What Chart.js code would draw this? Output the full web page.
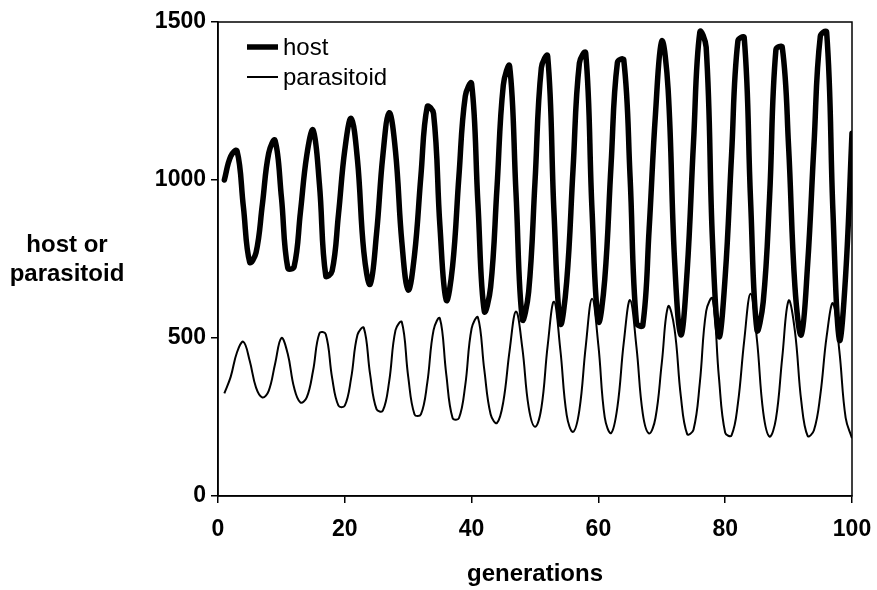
<!DOCTYPE html>
<html><head><meta charset="utf-8">
<script src="https://cdn.jsdelivr.net/npm/chart.js@4/dist/chart.umd.min.js"></script>
<style>html,body{margin:0;padding:0;background:#fff}#wrap{width:877px;height:590px;position:relative}</style>
</head><body><div id="wrap"><canvas id="c" width="877" height="590"></canvas></div>
<script>
const generations = [1,2,3,4,5,6,7,8,9,10,11,12,13,14,15,16,17,18,19,20,21,22,23,24,25,26,27,28,29,30,31,32,33,34,35,36,37,38,39,40,41,42,43,44,45,46,47,48,49,50,51,52,53,54,55,56,57,58,59,60,61,62,63,64,65,66,67,68,69,70,71,72,73,74,75,76,77,78,79,80,81,82,83,84,85,86,87,88,89,90,91,92,93,94,95,96,97,98,99,100];
const hostValues = [1000,1075,1092,916,740,770,923,1085,1125,946,
  722,725,898,1078,1158,986,697,712,891,1095,
  1195,1063,773,670,829,1077,1213,1090,803,652,
  764,1012,1232,1210,856,620,727,1012,1265,1305,
  925,585,661,974,1300,1360,960,560,646,994,
  1355,1392,895,546,679,1034,1370,1402,902,553,
  685,1049,1372,1380,1008,548,540,844,1208,1440,
  1286,752,510,712,1118,1468,1420,805,505,695,
  1078,1440,1450,937,526,615,946,1412,1420,1105,
  662,510,732,1110,1455,1468,897,495,700,1148];
const parasitoidValues = [325,377,455,488,428,343,312,333,418,500,
  450,343,296,312,397,515,512,374,286,286,
  373,510,532,384,275,270,363,525,550,378,
  258,258,357,525,562,386,247,246,351,530,
  565,400,259,231,298,461,584,469,281,219,
  278,476,615,462,256,203,272,473,624,476,
  249,199,282,485,620,472,261,198,247,421,
  600,530,316,196,210,359,585,625,378,200,
  192,292,492,640,496,265,188,244,439,618,
  521,300,190,208,319,505,610,460,247,183];
const seriesNames = ['host', 'parasitoid'];
const xTickValues = [0, 20, 40, 60, 80, 100];
const yTickValues = [0, 500, 1000, 1500];
const xTitle = 'generations';
const yTitleLines = ['host or', 'parasitoid'];

const FONT = '"Liberation Sans", Arial, Helvetica, sans-serif';
Chart.defaults.font.family = FONT;
Chart.defaults.color = '#000';

const extras = {
  id: 'extras',
  afterDraw(chart) {
    const ctx = chart.ctx, a = chart.chartArea;
    ctx.save();
    ctx.strokeStyle = '#000';
    ctx.lineWidth = 1.5;
    ctx.strokeRect(a.left, a.top, a.right - a.left, a.bottom - a.top);
    ctx.fillStyle = '#000';
    ctx.font = 'bold 24px ' + FONT;
    ctx.textAlign = 'center';
    ctx.textBaseline = 'middle';
    yTitleLines.forEach((t, i) => ctx.fillText(t, 67, 245 + i * 29));
    ctx.fillText(xTitle, (a.left + a.right) / 2, 574);
    // legend
    ctx.textAlign = 'left';
    ctx.font = '24px ' + FONT;
    chart.data.datasets.forEach((ds, i) => {
      const y = a.top + 25 + i * 30;
      ctx.beginPath();
      ctx.lineWidth = ds.borderWidth;
      ctx.strokeStyle = ds.borderColor;
      ctx.moveTo(a.left + 29, y);
      ctx.lineTo(a.left + 60, y);
      ctx.stroke();
      ctx.fillText(ds.label, a.left + 65, y + 1);
    });
    ctx.restore();
  }
};

const mk = (vals) => generations.map((g, i) => ({ x: g, y: vals[i] }));

new Chart(document.getElementById('c'), {
  type: 'line',
  data: {
    datasets: [
      { label: seriesNames[0], data: mk(hostValues), borderColor: '#000', borderWidth: 5.5, pointRadius: 0, tension: 0.4, fill: false, borderCapStyle: 'round', borderJoinStyle: 'round' },
      { label: seriesNames[1], data: mk(parasitoidValues), borderColor: '#000', borderWidth: 2, pointRadius: 0, tension: 0.4, fill: false }
    ]
  },
  options: {
    responsive: false,
    animation: false,
    devicePixelRatio: 1,
    layout: { padding: { left: 0, right: 25, top: 22, bottom: 0 } },
    plugins: { legend: { display: false }, tooltip: { enabled: false } },
    scales: {
      x: {
        type: 'linear', min: 0, max: 100,
        afterBuildTicks: (s) => { s.ticks = xTickValues.map(v => ({ value: v })); },
        afterFit: (s) => { s.height = 94; s.paddingLeft = 0; s.paddingRight = 0; },
        grid: { drawOnChartArea: false, drawTicks: true, tickLength: 7, color: '#000', lineWidth: 1.5 },
        border: { display: true, color: '#000', width: 1.5 },
        ticks: { font: { size: 23, weight: 'bold' }, color: '#000', padding: 13, maxRotation: 0, callback: (v) => String(v) }
      },
      y: {
        type: 'linear', min: 0, max: 1500,
        afterBuildTicks: (s) => { s.ticks = yTickValues.map(v => ({ value: v })); },
        afterFit: (s) => { s.width = 218; s.paddingTop = 0; s.paddingBottom = 0; },
        grid: { drawOnChartArea: false, drawTicks: true, tickLength: 7, color: '#000', lineWidth: 1.5 },
        border: { display: true, color: '#000', width: 1.5 },
        ticks: { font: { size: 23, weight: 'bold' }, color: '#000', padding: 5, callback: (v) => String(v) }
      }
    }
  },
  plugins: [extras]
});
</script></body></html>
